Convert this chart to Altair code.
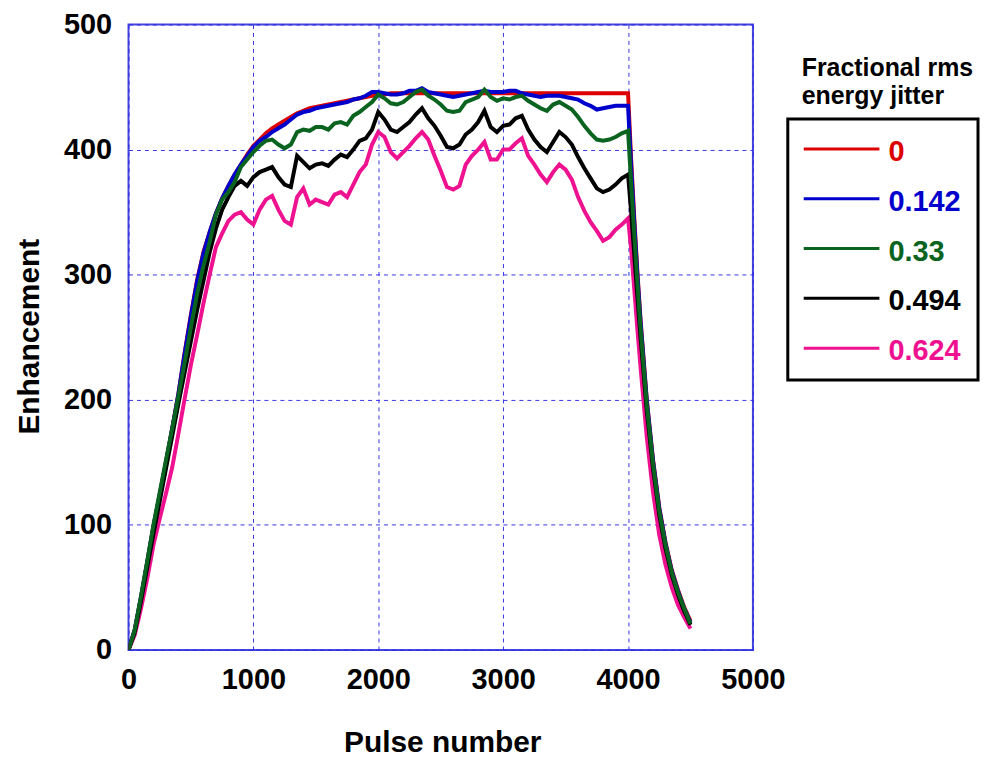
import altair as alt
import pandas as pd

# ---------------- data ----------------
pulse_main = list(range(0, 4001, 50))          # 0, 50, ..., 4000
pulse_decay = [4025, 4050, 4075, 4100, 4150, 4200, 4250, 4300, 4350, 4400, 4450, 4500]

jitter_labels = ["0", "0.142", "0.33", "0.494", "0.624"]
jitter_colors = ["#dd0000", "#0000cc", "#0a6420", "#000000", "#ee1190"]

red_main = [0, 16, 42, 70, 99, 124, 150, 177, 205, 238, 268, 296, 318, 334, 349, 361, 371, 380, 388, 396,
            403, 408, 413, 417, 420, 423, 426, 429, 431, 433, 434, 435, 436, 437, 438, 439, 440, 441, 442, 443,
            444, 444, 445, 445, 445, 445, 445, 445, 445, 445, 445, 445, 445, 445, 445, 445, 445, 445, 445, 445,
            445, 445, 445, 445, 445, 445, 445, 445, 445, 445, 445, 445, 445, 445, 445, 445, 445, 445, 445, 445,
            445]
red_decay = [392, 345, 302, 264, 200, 152, 114, 86, 64, 48, 34, 23]

blue_main = [0, 16, 42, 70, 99, 124, 150, 177, 205, 237, 267, 295, 317, 334, 349, 361, 371, 380, 388, 395,
             402, 407, 410, 414, 417, 420, 424, 428, 430, 431, 433, 434, 435, 436, 437, 438, 440, 441, 443, 446,
             446, 445, 444, 444, 445, 447, 447, 449, 446, 445, 444, 443, 442, 443, 444, 445, 446, 447, 446, 446,
             446, 447, 447, 445, 444, 443, 442, 443, 443, 443, 442, 441, 440, 437, 435, 432, 433, 434, 435, 435,
             435]
blue_decay = [386, 341, 299, 262, 199, 151, 113, 85, 63, 47, 33, 22]

green_main = [0, 16, 43, 71, 100, 126, 152, 177, 203, 230, 258, 285, 307, 326, 348, 360, 366, 374, 386, 392,
              398, 403, 407, 408, 404, 401, 404, 414, 416, 415, 418, 418, 416, 421, 422, 420, 427, 430, 434, 438,
              444, 441, 437, 436, 438, 442, 446, 448, 443, 440, 436, 431, 430, 431, 438, 440, 442, 448, 442, 439,
              441, 440, 442, 443, 439, 436, 433, 431, 436, 438, 435, 432, 426, 419, 413, 408, 407, 408, 410, 413,
              415]
green_decay = [373, 332, 293, 257, 196, 149, 111, 84, 62, 46, 33, 21]

black_main = [0, 14, 39, 66, 93, 119, 145, 171, 197, 222, 247, 272, 295, 318, 337, 352, 362, 371, 375, 371,
              378, 382, 384, 386, 378, 372, 370, 395, 390, 385, 388, 389, 387, 392, 396, 394, 400, 407, 409, 416,
              430, 424, 416, 414, 418, 422, 428, 433, 425, 419, 411, 402, 401, 404, 412, 416, 422, 431, 418, 414,
              419, 420, 425, 427, 416, 408, 402, 398, 406, 414, 410, 404, 394, 385, 377, 369, 366, 368, 372, 377,
              380]
black_decay = [350, 316, 282, 250, 191, 145, 108, 81, 60, 44, 31, 20]

pink_main = [0, 12, 33, 57, 84, 105, 125, 146, 173, 201, 228, 252, 277, 300, 322, 333, 343, 348, 350, 344,
             340, 352, 360, 363, 352, 343, 340, 362, 369, 356, 360, 358, 356, 364, 366, 362, 372, 382, 388, 404,
             414, 410, 398, 393, 398, 403, 409, 414, 408, 395, 383, 370, 368, 371, 388, 395, 400, 406, 392, 392,
             400, 400, 405, 409, 395, 388, 380, 374, 382, 388, 384, 376, 362, 351, 342, 335, 327, 330, 336, 340,
             345]
pink_decay = [320, 288, 256, 226, 170, 126, 92, 68, 50, 36, 26, 17]

legend_title = "Fractional rms\nenergy jitter"
x_ticks = [0, 1000, 2000, 3000, 4000, 5000]
y_ticks = [0, 100, 200, 300, 400, 500]

# ---------------- tables ----------------
series = {
    "0": (red_main, red_decay),
    "0.142": (blue_main, blue_decay),
    "0.33": (green_main, green_decay),
    "0.494": (black_main, black_decay),
    "0.624": (pink_main, pink_decay),
}
rows = []
for lab, (m, d) in series.items():
    for p, v in zip(pulse_main + pulse_decay, m + d):
        rows.append({"pulse": p, "enh": v, "jitter": lab})
df = pd.DataFrame(rows)
legend_df = pd.DataFrame({"jitter": jitter_labels, "rank": list(range(len(jitter_labels)))})
color_of = dict(zip(jitter_labels, jitter_colors))

FONT = "Liberation Sans"
W, H = 627, 628
GRID = dict(grid=True, gridColor="#2b2be6", gridDash=[4, 4], gridWidth=1, gridOpacity=0.95)

x_scale = alt.Scale(domain=[0, 5000], nice=False, zero=False)
y_scale = alt.Scale(domain=[0, 500], nice=False)

x_enc = alt.X(
    "pulse:Q", scale=x_scale,
    axis=alt.Axis(
        values=x_ticks, format="d", title="Pulse number",
        labelFont=FONT, labelFontSize=29, labelFontWeight="bold", labelColor="black",
        labelPadding=16, ticks=False, tickSize=0, domain=False,
        titleFont=FONT, titleFontSize=30, titleFontWeight="bold", titleColor="black",
        titleX=315, titleY=102, titleBaseline="alphabetic", titleAlign="center",
        labelFlush=False, labelOverlap=False, **GRID,
    ),
)
y_enc = alt.Y(
    "enh:Q", scale=y_scale,
    axis=alt.Axis(
        values=y_ticks, format="d", title="Enhancement",
        labelFont=FONT, labelFontSize=29, labelFontWeight="bold", labelColor="black",
        labelPadding=17, ticks=False, tickSize=0, domain=False,
        titleFont=FONT, titleFontSize=30, titleFontWeight="bold", titleColor="black",
        titleX=-90, titleY=313, titleBaseline="alphabetic", titleAlign="center", titleAngle=270,
        labelFlush=False, labelOverlap=False, **GRID,
    ),
)

base = alt.Chart(df)
draw_order = ["0", "0.142", "0.624", "0.494", "0.33"]
line_layers = []
for i, lab in enumerate(draw_order):
    if i == 0:
        enc = dict(x=x_enc, y=y_enc)
    else:
        enc = dict(x="pulse:Q", y="enh:Q")
    line_layers.append(
        base.transform_filter(alt.datum.jitter == lab)
        .mark_line(strokeWidth=4, color=color_of[lab], clip=True)
        .encode(**enc)
    )
lines = alt.layer(*line_layers)

# ---------------- legend (drawn by hand) ----------------
ly = alt.Y("rank:O", scale=alt.Scale(type="point", range=[125, 325], padding=0), axis=None)
lcolor = alt.Color("jitter:N", scale=alt.Scale(domain=jitter_labels, range=jitter_colors), legend=None)

box = alt.Chart(pd.DataFrame({"b": [1]})).mark_rect(
    fillOpacity=0, stroke="black", strokeWidth=3
).encode(x=alt.value(662), x2=alt.value(853), y=alt.value(95), y2=alt.value(357))

sym = alt.Chart(legend_df).mark_rule(strokeWidth=3).encode(
    x=alt.value(678), x2=alt.value(754), y=ly, color=lcolor
)
txt = alt.Chart(legend_df).mark_text(
    align="left", baseline="middle", dy=3, font=FONT, fontSize=29, fontWeight="bold"
).encode(x=alt.value(763), y=ly, text="jitter:N", color=lcolor)

ttl = alt.Chart(pd.DataFrame({"t": [legend_title]})).mark_text(
    align="left", baseline="alphabetic", font=FONT, fontSize=25, fontWeight="bold",
    lineBreak="\n", lineHeight=28, color="black"
).encode(x=alt.value(676), y=alt.value(52), text="t:N")

legend = alt.layer(box, sym, txt, ttl)

chart = alt.layer(lines, legend).resolve_scale(
    y="independent"
).properties(
    width=W, height=H,
    padding={"left": 121, "top": 15, "right": 228, "bottom": 110},
    autosize=alt.AutoSizeParams(type="none"),
).configure_view(stroke="#4545dd", strokeWidth=2)

chart.save("out.html", embed_options={"renderer": "svg", "actions": False})
